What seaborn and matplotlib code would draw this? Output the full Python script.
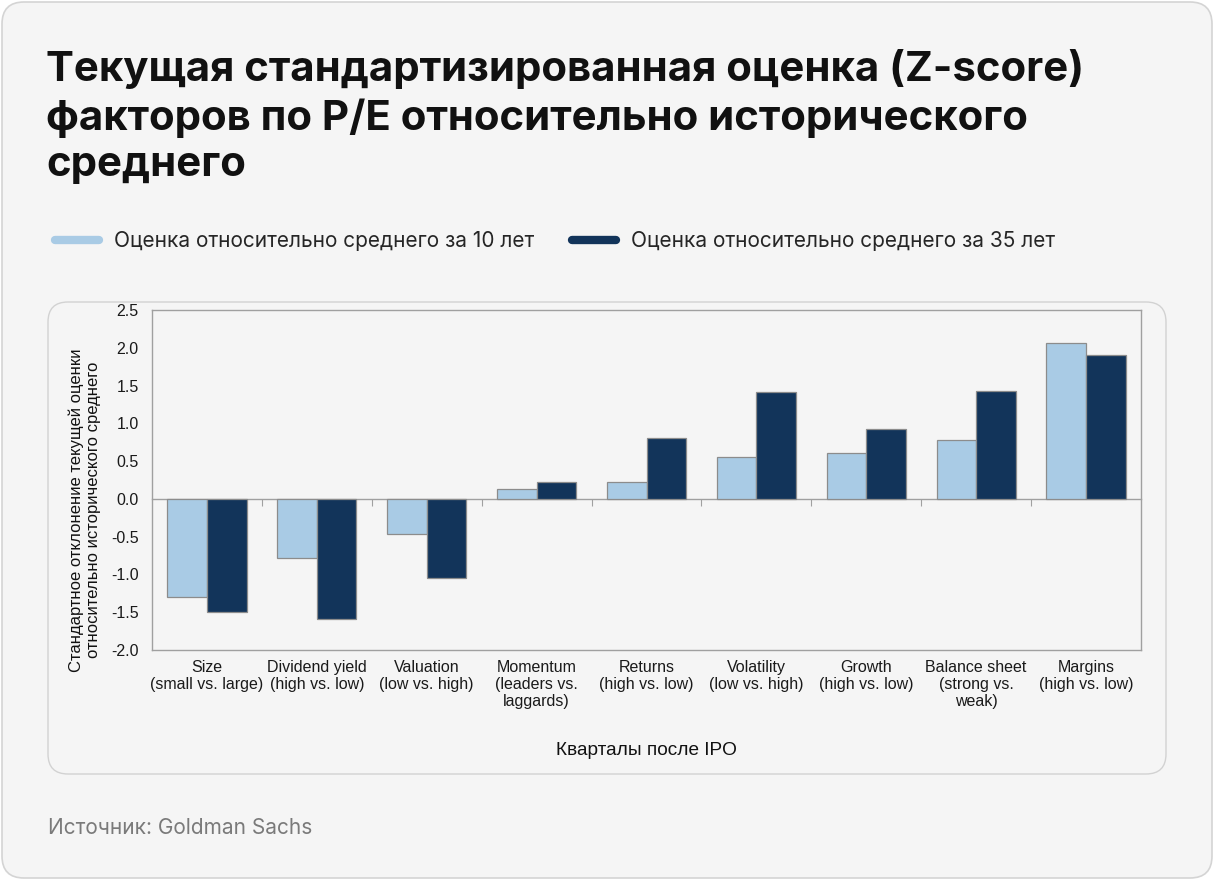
import numpy as np
import pandas as pd
import matplotlib
matplotlib.use("Agg")
import matplotlib.pyplot as plt
import seaborn as sns
from matplotlib.patches import FancyBboxPatch
from matplotlib.lines import Line2D

# ДАННЫЕ
factors = [
    "Size\n(small vs. large)",
    "Dividend yield\n(high vs. low)",
    "Valuation\n(low vs. high)",
    "Momentum\n(leaders vs.\nlaggards)",
    "Returns\n(high vs. low)",
    "Volatility\n(low vs. high)",
    "Growth\n(high vs. low)",
    "Balance sheet\n(strong vs.\nweak)",
    "Margins\n(high vs. low)",
]
z_10y = [-1.30, -0.78, -0.46, 0.13, 0.22, 0.55, 0.61, 0.78, 2.06]
z_35y = [-1.50, -1.59, -1.05, 0.23, 0.80, 1.42, 0.93, 1.43, 1.90]
series = ["Оценка относительно среднего за 10 лет",
          "Оценка относительно среднего за 35 лет"]
colors = ["#a9cbe5", "#12345a"]

df = pd.DataFrame({
    "factor": factors * 2,
    "z": z_10y + z_35y,
    "series": [series[0]] * len(factors) + [series[1]] * len(factors),
})

sns.set_theme(style="white")
plt.rcParams["font.family"] = ["Liberation Sans", "DejaVu Sans"]

BG = "#f5f5f5"
HEAD = ["Inter", "DejaVu Sans"]
W, H = 1214, 880
fig = plt.figure(figsize=(W / 100, H / 100), dpi=100, facecolor="white")

# фон-карточка и рамка вокруг графика
fig.patches.append(FancyBboxPatch((2, 2), 1210, 876, boxstyle="round,pad=0,rounding_size=22",
                                  transform=None, facecolor=BG, edgecolor="#d4d4d4",
                                  linewidth=1.2, figure=fig, zorder=-10))
fig.patches.append(FancyBboxPatch((48, H - 774), 1118, 472, boxstyle="round,pad=0,rounding_size=20",
                                  transform=None, facecolor=BG, edgecolor="#d2d2d2",
                                  linewidth=1.0, figure=fig, zorder=-9))

ax = fig.add_axes([152 / W, 1 - 650 / H, 989 / W, 340 / H])
ax.set_zorder(1)
ax.set_facecolor(BG)

sns.barplot(data=df, x="factor", y="z", hue="series", palette=colors,
            width=0.72, edgecolor="#8c8c8c", linewidth=0.9, saturation=1,
            legend=False, ax=ax)

ax.set_ylim(-2.0, 2.5)
ax.set_yticks(np.arange(-2.0, 2.51, 0.5))
ax.set_yticklabels([f"{v:.1f}" for v in np.arange(-2.0, 2.51, 0.5)])
ax.set_xlim(-0.5, len(factors) - 0.5)

for sp in ax.spines.values():
    sp.set_visible(True)
    sp.set_color("#a0a0a0")
    sp.set_linewidth(1.0)

ax.tick_params(axis="y", direction="out", length=3, width=0.8, color="#a0a0a0",
               labelsize=11.5, labelcolor="#1a1a1a", pad=6.5)
ax.tick_params(axis="x", length=0, labelsize=11.5, labelcolor="#1a1a1a", pad=7)
for lbl in ax.get_xticklabels():
    lbl.set_linespacing(1.17)

# нулевая линия с засечками между категориями
zero_pos = (0 - (-2.0)) / 4.5
sec = ax.secondary_xaxis(zero_pos)
sec.set_xticks(np.arange(0.5, len(factors) - 0.5, 1.0))
sec.set_xticklabels([])
sec.tick_params(direction="out", length=5, width=0.8, color="#a0a0a0")
sec.spines["bottom"].set_color("#a0a0a0")
sec.spines["bottom"].set_linewidth(1.0)

ax.set_xlabel("Кварталы после IPO", fontsize=13.7, color="#111111")
ax.xaxis.set_label_coords(0.5, -(750 - 650) / 340)
ax.xaxis.label.set_va("center")
ax.set_ylabel("Стандартное отклонение текущей оценки\nотносительно исторического среднего",
              fontsize=12, color="#111111", linespacing=1.15)
ax.yaxis.set_label_coords((101 - 152) / 989, (650 - 510) / 340)

# заголовок
fig.text(46 / W, 1 - 49 / H,
         "Текущая стандартизированная оценка (Z-score)\nфакторов по P/E относительно исторического\nсреднего",
         fontsize=30.2, fontweight="bold", family=HEAD,
         color="#111111", va="top", ha="left", linespacing=1.29)

# легенда
handles = [Line2D([0], [0], color=c, lw=6, solid_capstyle="round") for c in colors]
fig.legend(handles, series, loc="center left", bbox_to_anchor=(36 / W, 1 - 241 / H),
           ncol=2, frameon=False, handlelength=2.1, handletextpad=0.75, columnspacing=1.8,
           prop={"family": HEAD, "size": 15})

fig.text(48 / W, 1 - 828 / H, "Источник: Goldman Sachs", fontsize=15,
         family=HEAD, color="#7a7a7a", va="center", ha="left")

fig.savefig("out.png", dpi=100, facecolor="white")
